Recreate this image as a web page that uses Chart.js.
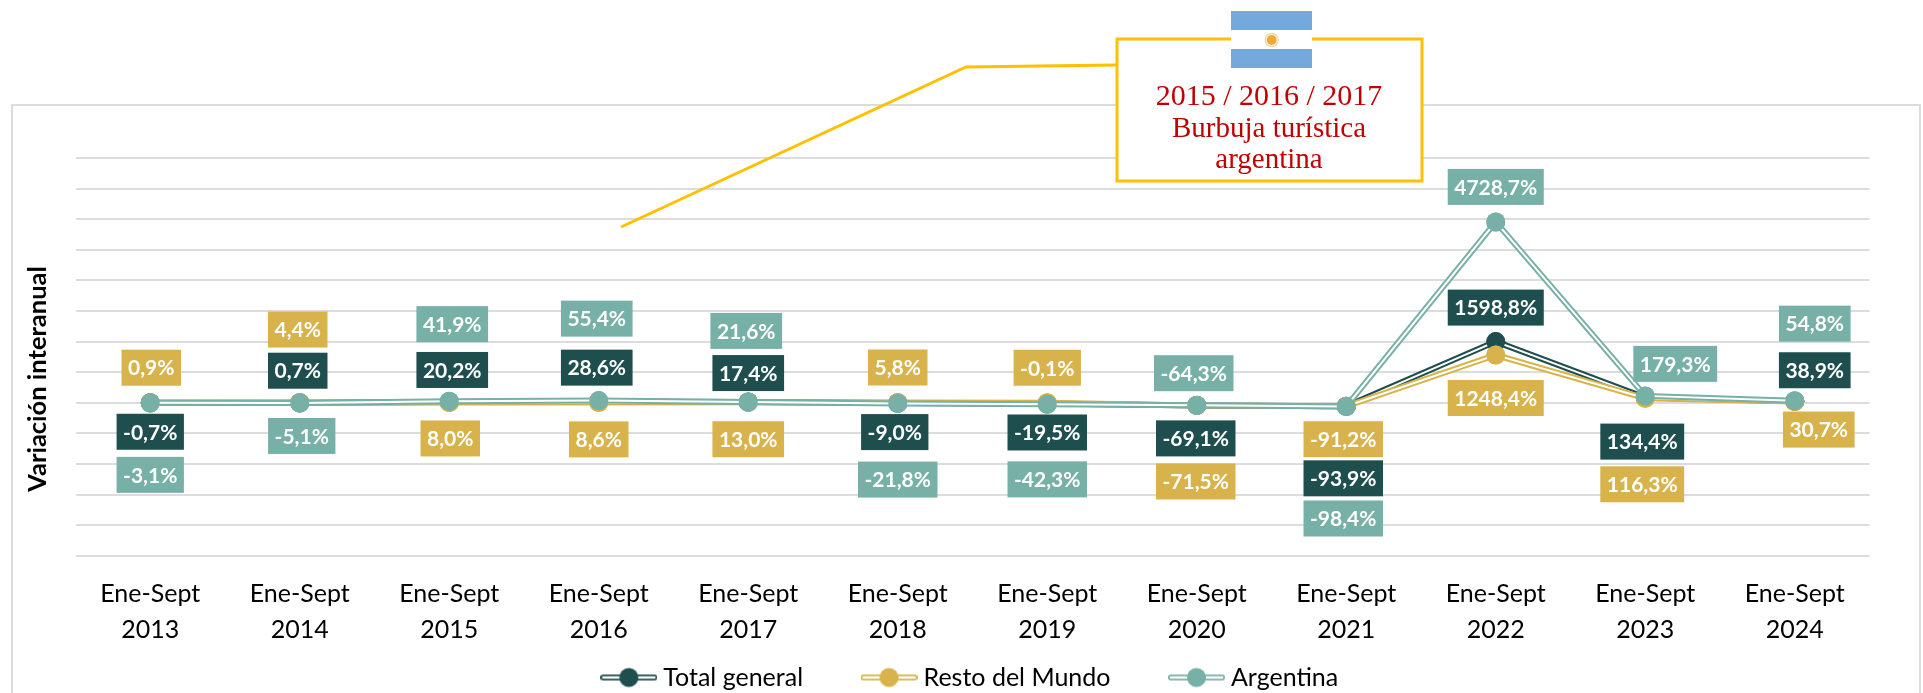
<!DOCTYPE html>
<html lang="es">
<head>
    <meta charset="UTF-8">
    <title>Variación interanual</title>
    <script src="https://cdn.jsdelivr.net/npm/chart.js"></script>
    <style>
        body { margin: 0; background: #fff; }
        canvas { display: block; }
    </style>
</head>
<body>
    <canvas id="chart" width="1923" height="693"></canvas>
    <script>
        var categories = [
            ['Ene-Sept', '2013'], ['Ene-Sept', '2014'], ['Ene-Sept', '2015'], ['Ene-Sept', '2016'],
            ['Ene-Sept', '2017'], ['Ene-Sept', '2018'], ['Ene-Sept', '2019'], ['Ene-Sept', '2020'],
            ['Ene-Sept', '2021'], ['Ene-Sept', '2022'], ['Ene-Sept', '2023'], ['Ene-Sept', '2024']
        ];
        var totalGeneral = [-0.7, 0.7, 20.2, 28.6, 17.4, -9.0, -19.5, -69.1, -93.9, 1598.8, 134.4, 38.9];
        var restoDelMundo = [0.9, 4.4, 8.0, 8.6, 13.0, 5.8, -0.1, -71.5, -91.2, 1248.4, 116.3, 30.7];
        var argentina = [-3.1, -5.1, 41.9, 55.4, 21.6, -21.8, -42.3, -64.3, -98.4, 4728.7, 179.3, 54.8];

        var DARK = '#1F4E4E', GOLD = '#D8B24A', TEAL = '#76B0A6';
        var GRID = '#DCDCDC', YELLOW = '#FFC000', RED = '#C00000';

        // where each value label sits relative to its point (px)
        var labelOffsets = {
            'Total general': {
                dx: [0, -2, 3, -2, 0, -3, 0, -1, -3, 0, -3, 20],
                dy: [29, -32, -32, -34, -29, 29, 29, 33, 72, -34, 44, -31]
            },
            'Resto del Mundo': {
                dx: [1, -2, 1, 0, 0, 0, 0, -1, -3, 0, -3, 24],
                dy: [-35, -73, 36, 37, 37, -35, -35, 76, 33, 43, 86, 28]
            },
            'Argentina': {
                dx: [0, 2, 3, -2, -2, 0, 0, -3, -3, 0, 30, 20],
                dy: [72, 33, -77, -82, -71, 76, 75, -32, 112, -35, -32, -77]
            }
        };

        function formatPct(v) {
            return v.toFixed(1).replace('.', ',') + '%';
        }

        // legend swatch: double line with a dot in the middle
        function legendIcon(color) {
            var c = document.createElement('canvas');
            c.width = 57;
            c.height = 22;
            var g = c.getContext('2d');
            g.lineCap = 'round';
            g.strokeStyle = color;
            g.lineWidth = 6;
            g.beginPath(); g.moveTo(3, 11); g.lineTo(54, 11); g.stroke();
            g.strokeStyle = '#fff';
            g.lineWidth = 2.5;
            g.beginPath(); g.moveTo(3, 11); g.lineTo(54, 11); g.stroke();
            g.fillStyle = color;
            g.beginPath(); g.arc(28.5, 11, 9.5, 0, Math.PI * 2); g.fill();
            return c;
        }

        // Excel style compound line: white core on top of the wide stroke
        var doubleLine = {
            id: 'doubleLine',
            afterDatasetDraw: function (chart, args) {
                var ctx = chart.ctx, pts = args.meta.data;
                ctx.save();
                ctx.strokeStyle = '#fff';
                ctx.lineWidth = 2;
                ctx.lineJoin = 'miter';
                ctx.beginPath();
                pts.forEach(function (p, i) {
                    if (i === 0) ctx.moveTo(p.x, p.y); else ctx.lineTo(p.x, p.y);
                });
                ctx.stroke();
                ctx.restore();
                pts.forEach(function (p) { p.draw(ctx); });
            }
        };

        var frame = {
            id: 'frame',
            beforeDraw: function (chart) {
                var ctx = chart.ctx;
                ctx.save();
                ctx.strokeStyle = GRID;
                ctx.lineWidth = 2;
                ctx.strokeRect(12, 105, 1908, 640);
                ctx.restore();
            }
        };

        var valueLabels = {
            id: 'valueLabels',
            afterDatasetsDraw: function (chart) {
                var ctx = chart.ctx;
                ctx.save();
                ctx.font = 'bold 21px Lato';
                ctx.textAlign = 'center';
                ctx.textBaseline = 'middle';
                chart.data.datasets.forEach(function (ds, d) {
                    var meta = chart.getDatasetMeta(d);
                    var off = labelOffsets[ds.label];
                    ds.data.forEach(function (v, i) {
                        var txt = formatPct(v);
                        var cx = meta.data[i].x + off.dx[i];
                        var cy = meta.data[i].y + off.dy[i];
                        var w = ctx.measureText(txt).width + 13;
                        ctx.fillStyle = ds.borderColor;
                        ctx.fillRect(cx - w / 2, cy - 18, w, 36);
                        ctx.fillStyle = '#fff';
                        ctx.fillText(txt, cx, cy + 1);
                    });
                });
                ctx.restore();
            }
        };

        // axis title and the flag callout sit outside the data
        var annotations = {
            id: 'annotations',
            afterDraw: function (chart) {
                var ctx = chart.ctx;
                ctx.save();

                ctx.save();
                ctx.translate(38, 379);
                ctx.rotate(-Math.PI / 2);
                ctx.font = 'bold 25.5px Lato';
                ctx.fillStyle = '#000';
                ctx.textAlign = 'center';
                ctx.textBaseline = 'middle';
                ctx.fillText('Variación interanual', 0, 0);
                ctx.restore();

                ctx.strokeStyle = YELLOW;
                ctx.lineWidth = 3;
                ctx.beginPath();
                ctx.moveTo(621, 227);
                ctx.lineTo(966, 67);
                ctx.lineTo(1116, 65);
                ctx.stroke();

                ctx.fillStyle = '#fff';
                ctx.fillRect(1117, 39, 305, 142);
                ctx.strokeRect(1117, 39, 305, 142);

                ctx.fillStyle = '#74A9DC';
                ctx.fillRect(1231, 11, 81, 19);
                ctx.fillRect(1231, 49, 81, 19);
                ctx.fillStyle = '#fff';
                ctx.fillRect(1231, 30, 81, 19);
                // little sun on the flag
                ctx.strokeStyle = '#F3D9A8';
                ctx.lineWidth = 1.5;
                ctx.beginPath();
                ctx.arc(1271.7, 40, 6.5, 0, Math.PI * 2);
                ctx.stroke();
                ctx.fillStyle = '#EDA93C';
                ctx.beginPath();
                ctx.arc(1271.7, 40, 5, 0, Math.PI * 2);
                ctx.fill();

                ctx.fillStyle = RED;
                ctx.textAlign = 'center';
                ctx.textBaseline = 'middle';
                ctx.font = '30px "Liberation Serif"';
                ctx.fillText('2015 / 2016 / 2017', 1269, 97);
                ctx.font = '29px "Liberation Serif"';
                ctx.fillText('Burbuja turística', 1269, 129);
                ctx.fillText('argentina', 1269, 160);
                ctx.restore();
            }
        };

        new Chart(document.getElementById('chart').getContext('2d'), {
            type: 'line',
            data: {
                labels: categories,
                datasets: [
                    { label: 'Total general', data: totalGeneral, order: 3 },
                    { label: 'Resto del Mundo', data: restoDelMundo, order: 2 },
                    { label: 'Argentina', data: argentina, order: 1 }
                ].map(function (ds, i) {
                    var color = [DARK, GOLD, TEAL][i];
                    ds.borderColor = color;
                    ds.backgroundColor = color;
                    ds.borderWidth = 6;
                    ds.pointRadius = 9.5;
                    ds.pointBorderWidth = 0;
                    ds.pointBackgroundColor = color;
                    ds.tension = 0;
                    return ds;
                })
            },
            options: {
                responsive: false,
                animation: false,
                layout: { padding: { left: 75.5, right: 53.5, top: 158, bottom: -7 } },
                scales: {
                    x: {
                        offset: true,
                        grid: { display: false },
                        border: { display: false },
                        afterFit: function (s) { s.height = 45.3; },
                        ticks: {
                            color: '#000',
                            font: { family: 'Lato', size: 25, lineHeight: 1.44 },
                            maxRotation: 0,
                            autoSkip: false,
                            // mirror stops the labels being clipped to the short scale box,
                            // it also flips the padding so this has to be negative
                            mirror: true,
                            padding: -56
                        }
                    },
                    y: {
                        min: -4000,
                        max: 6400,
                        afterFit: function (s) { s.width = 0; },
                        border: { display: false },
                        grid: { color: GRID, lineWidth: 2, drawTicks: false },
                        ticks: { display: false, stepSize: 800 }
                    }
                },
                plugins: {
                    legend: {
                        position: 'bottom',
                        labels: {
                            usePointStyle: true,
                            pointStyleWidth: 44,
                            padding: 64,
                            color: '#000',
                            font: { family: 'Lato', size: 25 },
                            generateLabels: function (chart) {
                                return chart.data.datasets.map(function (ds, i) {
                                    return {
                                        text: ds.label,
                                        datasetIndex: i,
                                        fontColor: '#000',
                                        lineWidth: 0,
                                        pointStyle: legendIcon(ds.borderColor)
                                    };
                                });
                            }
                        }
                    },
                    tooltip: { enabled: false }
                }
            },
            plugins: [frame, doubleLine, valueLabels, annotations]
        });
    </script>
</body>
</html>
